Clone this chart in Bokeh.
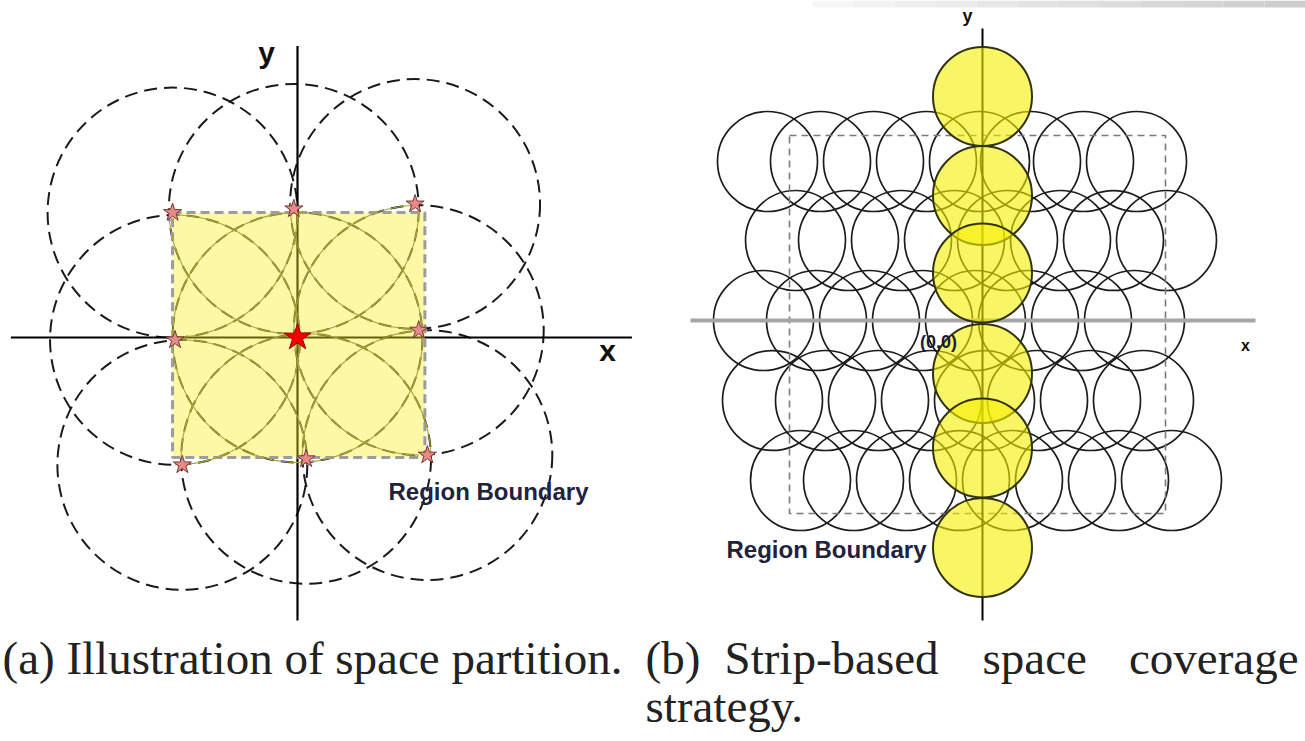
import numpy as np
from bokeh.plotting import figure
from bokeh.models import Range1d
from bokeh.embed import file_html
from bokeh.resources import INLINE
from bokeh.core.properties import value

# ---------------- Panel (a): space partition (grid units) ----------------
a_star_x = [-1.02, -0.03, 0.96, -1.00, 0.00, 0.99, -0.94, 0.07, 1.06]
a_star_y = [1.02, 1.05, 1.09, -0.02, 0.00, 0.06, -1.04, -0.99, -0.96]
a_radius = 1.02
a_arc_start = [270, 180, 180, 270, 0, 90, 0, 0, 90]     # part of each circle inside region (deg)
a_arc_end = [360, 360, 270, 450, 359.9, 270, 90, 180, 180]
a_region_x = [-1.02, 1.04, 1.04, -1.02]
a_region_y = [1.02, 1.02, -0.98, -0.98]
a_axis_x = [-2.34, 2.73]
a_axis_y = [2.38, -2.31]

# ---------------- Panel (b): strip-based coverage (radius units) ----------------
b_row_y = [3.18, 1.60, 0.00, -1.60, -3.20]
b_row_x = [
    [-4.30, -3.24, -2.18, -1.12, -0.06, 0.96, 2.02, 3.08],
    [-3.74, -2.68, -1.62, -0.56, 0.50, 1.56, 2.62, 3.68],
    [-4.38, -3.32, -2.26, -1.20, -0.14, 0.92, 1.98, 3.04],
    [-4.20, -3.14, -2.08, -1.02, 0.04, 1.10, 2.16, 3.22],
    [-3.64, -2.58, -1.52, -0.46, 0.60, 1.66, 2.72, 3.78],
]
b_radius = 1.0
b_strip_y = [4.48, 2.50, 0.95, -1.06, -2.55, -4.54]
b_strip_radius = 0.99
b_region_x = [-3.86, 3.66, 3.66, -3.86, -3.86]
b_region_y = [3.70, 3.70, -3.86, -3.86, 3.70]
b_axis_x = [-5.84, 5.46]
b_axis_y = [5.84, -6.0]

# ---------------- captions / labels ----------------
cap_a = "(a) Illustration of space partition."
cap_b_words = ["(b)", "Strip-based", "space", "coverage"]
cap_b_line2 = "strategy."

# ---------------- layout constants (page pixels) ----------------
W, H = 1305, 741
X0, Y0 = 0, 0
A_ORIGIN, A_PX = (297, 337), 122.5
B_ORIGIN, B_PX = (982, 320), 50.0
BAR_LEFT, BAR_RIGHT, BAR_H = 812, 1305, 7


def ranges(origin, px):
    ox, oy = origin
    xr = Range1d((X0 - ox) / px, (X0 + W - ox) / px)
    yr = Range1d((oy - (Y0 + H)) / px, (oy - Y0) / px)
    return xr, yr


p = figure(width=W, height=H, output_backend="svg", toolbar_location=None,
           x_range=Range1d(X0, X0 + W), y_range=Range1d(Y0 + H, Y0),
           x_axis_location=None, y_axis_location=None, min_border=0,
           background_fill_color="white", border_fill_color="white")
p.grid.visible = False
p.outline_line_color = None

axr, ayr = ranges(A_ORIGIN, A_PX)
bxr, byr = ranges(B_ORIGIN, B_PX)
p.extra_x_ranges = {"ax": axr, "bx": bxr}
p.extra_y_ranges = {"ay": ayr, "by": byr}
A = dict(x_range_name="ax", y_range_name="ay")
B = dict(x_range_name="bx", y_range_name="by")

# ---- panel (a) ----
p.circle(a_star_x, a_star_y, radius=a_radius, fill_color=None,
         line_color="#1a1a1a", line_width=2, line_dash="13 7", **A)
p.line(a_axis_x, [0, 0], line_color="black", line_width=2.2, **A)
p.line([0, 0], a_axis_y, line_color="black", line_width=2.2, **A)
p.patch(a_region_x, a_region_y, fill_color="#f8ee20", fill_alpha=0.4,
        line_color="#9c9c9c", line_width=3, line_dash="9 5", **A)
p.arc(a_star_x, a_star_y, radius=a_radius,
      start_angle=np.radians(a_arc_start), end_angle=np.radians(a_arc_end),
      line_color="#aaa340", line_width=1.1, **A)
outer = [i for i in range(9) if i != 4]
p.scatter([a_star_x[i] for i in outer], [a_star_y[i] for i in outer], marker="star",
          size=19, fill_color="#e8898a", line_color="#7a3535", line_width=1, **A)
p.scatter([a_star_x[4]], [a_star_y[4]], marker="star", size=28,
          fill_color="#f20000", line_color="#a00000", line_width=1, **A)

# ---- panel (b) ----
for xs, yv in zip(b_row_x, b_row_y):
    p.circle(xs, [yv] * len(xs), radius=b_radius, fill_color=None,
             line_color="#1c1c1c", line_width=1.7, **B)
p.line(b_region_x, b_region_y, line_color="#7a7a7a", line_width=1.6, line_dash="7 5", **B)
p.line(b_axis_x, [0, 0], line_color="#a6a6a6", line_width=4, **B)
p.line([0, 0], b_axis_y, line_color="black", line_width=2, **B)
p.circle([0] * len(b_strip_y), b_strip_y, radius=b_strip_radius,
         fill_color="#f5f000", fill_alpha=0.6, line_color="#333310", line_width=2, **B)

# ---- texts (page pixel coordinates) ----
sans = value("Liberation Sans")
serif = value("Liberation Serif")
p.text([266], [52], text=["y"], text_font=sans, text_font_size="30px", text_font_style="bold",
       text_align="center", text_baseline="middle", text_color="#111111")
p.text([607], [350], text=["x"], text_font=sans, text_font_size="30px", text_font_style="bold",
       text_align="center", text_baseline="middle", text_color="#111111")
p.text([388], [491], text=["Region Boundary"], text_font=sans, text_font_size="24px",
       text_font_style="bold", text_align="left", text_baseline="middle", text_color="#22223f")
p.text([926], [549], text=["Region Boundary"], text_font=sans, text_font_size="24px",
       text_font_style="bold", text_align="right", text_baseline="middle", text_color="#22223f")
p.text([967], [15], text=["y"], text_font=sans, text_font_size="18px", text_font_style="bold",
       text_align="center", text_baseline="middle", text_color="#111111")
p.text([1245], [345], text=["x"], text_font=sans, text_font_size="16px", text_font_style="bold",
       text_align="center", text_baseline="middle", text_color="#111111")
p.text([938], [341], text=["(0,0)"], text_font=sans, text_font_size="18px", text_font_style="bold",
       text_align="center", text_baseline="middle", text_color="#1a1a3a")

p.text([2], [657], text=[cap_a], text_font=serif, text_font_size="47px",
       text_align="left", text_baseline="alphabetic", text_color="#222222")
p.text([645, 724, 982, 1298], [657] * 4, text=cap_b_words, text_font=serif,
       text_font_size="47px", text_align=["left", "left", "left", "right"],
       text_baseline="alphabetic", text_color="#222222")
p.text([645], [705], text=[cap_b_line2], text_font=serif, text_font_size="47px",
       text_align="left", text_baseline="alphabetic", text_color="#222222")

# ---- light grey screenshot band at the top right ----
edges = np.linspace(BAR_LEFT, BAR_RIGHT, 13)
shades = ["#%02x%02x%02x" % (g, g, g) for g in np.linspace(246, 206, 12).astype(int)]
p.quad(left=edges[:-1], right=edges[1:], top=[0] * 12, bottom=[BAR_H] * 12,
       fill_color=shades, line_color=None)

open("out.html", "w").write(file_html(p, INLINE))
